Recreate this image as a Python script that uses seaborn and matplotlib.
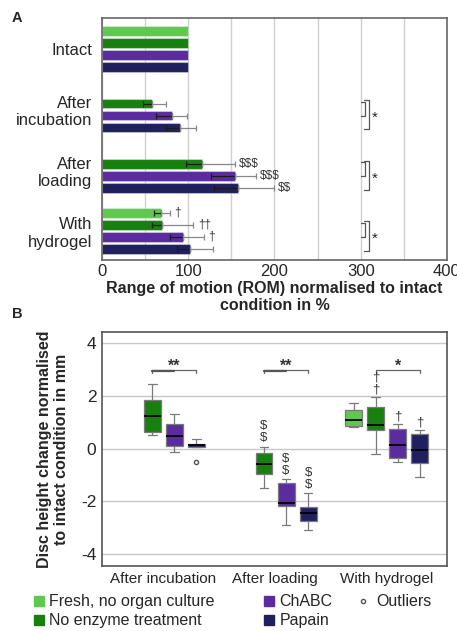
import numpy as np
import pandas as pd
import matplotlib
matplotlib.use("Agg")
import matplotlib.pyplot as plt
from matplotlib.container import BarContainer
from matplotlib.lines import Line2D
from matplotlib.ticker import MultipleLocator
import seaborn as sns

sns.set_style("white")
plt.rcParams["font.family"] = ["Liberation Sans", "DejaVu Sans"]
plt.rcParams["axes.unicode_minus"] = False

groups = ["Fresh, no organ culture", "No enzyme treatment", "ChABC", "Papain"]
colors = ["#5ec94e", "#18800f", "#5a2ca0", "#21205f"]

# panel A: range of motion (%), mean with lower / upper error
stages_a = ["Intact", "After\nincubation", "After\nloading", "With\nhydrogel"]
rom_fresh = [100, np.nan, np.nan, 68]
rom_no_enzyme = [100, 58, 116, 70]
rom_chabc = [100, 81, 154, 94]
rom_papain = [100, 91, 158, 102]
err_lo_fresh = [0, 0, 0, 8]
err_hi_fresh = [0, 0, 0, 11]
err_lo_no_enzyme = [0, 10, 19, 12]
err_hi_no_enzyme = [0, 16, 38, 36]
err_lo_chabc = [0, 18, 28, 15]
err_hi_chabc = [0, 18, 24, 24]
err_lo_papain = [0, 17, 28, 15]
err_hi_papain = [0, 18, 41, 27]
marks_fresh = ["", "", "", "\u2020"]
marks_no_enzyme = ["", "", r"\$\$\$", "\u2020\u2020"]
marks_chabc = ["", "", r"\$\$\$", "\u2020"]
marks_papain = ["", "", r"\$\$", ""]

# panel B: disc height change (mm)
stages_b = ["After incubation", "After loading", "With hydrogel"]
dh_fresh = [[], [], [0.81, 0.87, 1.10, 1.45, 1.72]]
dh_no_enzyme = [[0.50, 0.63, 1.24, 1.83, 2.46],
                [-1.49, -0.98, -0.57, -0.16, 0.08],
                [-0.19, 0.71, 0.91, 1.56, 1.94]]
dh_chabc = [[-0.11, 0.09, 0.47, 0.93, 1.32],
            [-2.90, -2.18, -2.06, -1.32, -1.16],
            [-0.52, -0.35, 0.14, 0.74, 0.92]]
dh_papain = [[-0.50, 0.05, 0.05, 0.14, 0.18, 0.18, 0.35],
             [-3.08, -2.75, -2.44, -2.20, -1.68],
             [-1.06, -0.56, -0.05, 0.54, 0.69]]
dh_marks_no_enzyme = ["", "$\n$", "\u2020\n\u2020"]
dh_marks_chabc = ["", "$\n$", "\u2020"]
dh_marks_papain = ["", "$\n$", "\u2020"]
dh_sig = ["**", "**", "*"]

rom_means = [rom_fresh, rom_no_enzyme, rom_chabc, rom_papain]
rom_lo = [err_lo_fresh, err_lo_no_enzyme, err_lo_chabc, err_lo_papain]
rom_hi = [err_hi_fresh, err_hi_no_enzyme, err_hi_chabc, err_hi_papain]
rom_marks = [marks_fresh, marks_no_enzyme, marks_chabc, marks_papain]

rows = []
for g, vals in zip(groups, rom_means):
    for s, v in zip(stages_a, vals):
        if not np.isnan(v):
            rows.append({"stage": s, "group": g, "rom": v})
df_a = pd.DataFrame(rows)

rows = []
for g, lists in zip(groups, [dh_fresh, dh_no_enzyme, dh_chabc, dh_papain]):
    for s, vals in zip(stages_b, lists):
        for v in vals:
            rows.append({"stage": s, "group": g, "height": v})
df_b = pd.DataFrame(rows)

W = 0.79
fig = plt.figure(figsize=(4.57, 6.31), dpi=100)
ax_a = fig.add_axes([0.2232, 0.588, 0.7548, 0.3835])
ax_b = fig.add_axes([0.2232, 0.103, 0.7548, 0.3708])

# ---- panel A
sns.barplot(data=df_a, y="stage", x="rom", hue="group", order=stages_a, hue_order=groups,
            palette=colors, saturation=1, width=W, gap=0.2, errorbar=None,
            orient="h", legend=False, ax=ax_a, zorder=2,
            edgecolor=(1, 1, 1, 0.35), linewidth=0.8)
bar_conts = [c for c in ax_a.containers if isinstance(c, BarContainer)]
for hi, cont in enumerate(bar_conts):
    for bar in cont.patches:
        yc = bar.get_y() + bar.get_height() / 2
        si = int(round(yc))
        val = bar.get_width()
        lo, up = rom_lo[hi][si], rom_hi[hi][si]
        if lo or up:
            ax_a.errorbar(val, yc, xerr=[[lo], [0]], fmt="none", ecolor="#1a1a1a",
                          elinewidth=0.9, capsize=2.5, capthick=0.9, zorder=3)
            ax_a.errorbar(val, yc, xerr=[[0], [up]], fmt="none", ecolor="#888888",
                          elinewidth=0.9, capsize=2.5, capthick=0.9, zorder=3)
        if rom_marks[hi][si]:
            ax_a.text(val + up + 5, yc, rom_marks[hi][si], va="center", ha="left",
                      fontsize=8.5, color="#333333")

slot = W / 4
for si in [1, 2, 3]:
    y1 = si + (1 - 1.5) * slot
    y2 = si + (2 - 1.5) * slot
    y3 = si + (3 - 1.5) * slot
    ax_a.plot([300, 305, 305, 300], [y1 - 0.03, y1 - 0.03, y2, y2], color="#555555", lw=0.9)
    ax_a.plot([304, 310, 310, 304], [y1 - 0.06, y1 - 0.06, y3 + 0.03, y3 + 0.03],
              color="#555555", lw=0.9)
    ax_a.text(313, (y1 + y3) / 2 + 0.04, "*", fontsize=11, va="center", ha="left")

ax_a.set_xlim(0, 400)
ax_a.set_ylim(3.48, -0.51)
ax_a.xaxis.set_major_locator(MultipleLocator(100))
ax_a.xaxis.set_minor_locator(MultipleLocator(50))
ax_a.grid(axis="x", which="both", color="#d0d0d0", lw=1, zorder=0)
ax_a.set_axisbelow(True)
ax_a.tick_params(axis="both", which="both", length=0, labelsize=12)
ax_a.tick_params(axis="x", pad=3)
ax_a.tick_params(axis="y", pad=7)
ax_a.set_ylabel("")
ax_a.set_xlabel("Range of motion (ROM) normalised to intact\ncondition in %",
                fontsize=11.5, fontweight="bold", labelpad=1, linespacing=1.2)
for sp in ax_a.spines.values():
    sp.set_color("#666666")
    sp.set_linewidth(1.2)

# ---- panel B
sns.boxplot(data=df_b, x="stage", y="height", hue="group", order=stages_b, hue_order=groups,
            palette=colors, saturation=1, width=W, gap=0.23, linecolor="#7a7a7a",
            linewidth=0.9, fliersize=3, legend=False, ax=ax_b,
            medianprops=dict(color="black", linewidth=1.3),
            flierprops=dict(marker="o", markerfacecolor="white", markeredgecolor="#555555",
                            markersize=3))

for si in range(3):
    x1 = si + (1 - 1.5) * slot
    x2 = si + (2 - 1.5) * slot
    x3 = si + (3 - 1.5) * slot
    ax_b.plot([x1, x1, x3, x3], [2.87, 2.97, 2.97, 2.87], color="#666666", lw=0.9)
    if dh_sig[si] == "**":
        ax_b.plot([x1, x2], [2.93, 2.93], color="#555555", lw=1.6)
    ax_b.text((x1 + x3) / 2, 2.85, dh_sig[si], ha="center", va="bottom", fontsize=11.5,
              fontweight="bold", color="#333333")

for hi, marks, lists in [(1, dh_marks_no_enzyme, dh_no_enzyme),
                         (2, dh_marks_chabc, dh_chabc),
                         (3, dh_marks_papain, dh_papain)]:
    for si, m in enumerate(marks):
        if m:
            top = max(lists[si])
            ax_b.text(si + (hi - 1.5) * slot, top + 0.08, m.replace("$", r"\$"),
                      ha="center", va="bottom", fontsize=9.5, color="#333333",
                      linespacing=1.0)

ax_b.set_xlim(-0.55, 2.54)
ax_b.set_ylim(-4.45, 4.42)
ax_b.yaxis.set_major_locator(MultipleLocator(2))
ax_b.grid(axis="y", color="#c8c8c8", lw=1)
ax_b.set_axisbelow(True)
ax_b.tick_params(axis="both", length=0)
ax_b.tick_params(axis="y", labelsize=12.5, pad=4)
ax_b.tick_params(axis="x", labelsize=11, pad=4)
ax_b.set_xlabel("")
ax_b.set_ylabel("Disc height change normalised\nto intact condition in mm",
                fontsize=11.5, fontweight="bold", labelpad=9, linespacing=1.15)
for sp in ax_b.spines.values():
    sp.set_color("#555555")
    sp.set_linewidth(1.2)

fig.text(0.026, 0.982, "A", fontsize=10.5, fontweight="bold", va="top")
fig.text(0.026, 0.513, "B", fontsize=10.5, fontweight="bold", va="top")

# ---- legend
handles = [Line2D([], [], marker="s", ls="none", color=c, markersize=7) for c in colors]
fig.legend(handles, groups, loc="upper left", bbox_to_anchor=(0.071, 0.058),
           ncol=2, frameon=False, fontsize=11.5, handlelength=0.8, handletextpad=0.25,
           columnspacing=3.0, labelspacing=0.25, borderpad=0, borderaxespad=0)
out_h = [Line2D([], [], marker="o", ls="none", markerfacecolor="white",
                markeredgecolor="#555555", markersize=3)]
fig.legend(out_h, ["Outliers"], loc="upper left", bbox_to_anchor=(0.781, 0.058),
           frameon=False, fontsize=11.5, handlelength=0.8, handletextpad=0.4,
           borderpad=0, borderaxespad=0)

fig.savefig("out.png", dpi=100)
